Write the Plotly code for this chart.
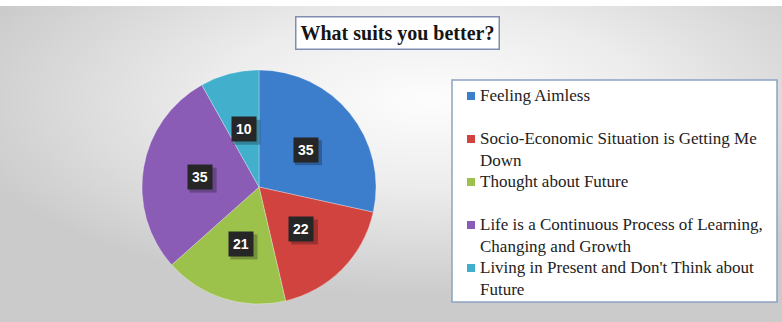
import base64
import math

import plotly.graph_objects as go

# ---- data -------------------------------------------------------------
categories = [
    "Feeling Aimless",
    "Socio-Economic Situation is Getting Me<br>Down",
    "Thought about Future",
    "Life is a Continuous Process of Learning,<br>Changing and Growth",
    "Living in Present and Don't Think about<br>Future",
]
values = [35, 22, 21, 35, 10]
colors = ["#3c7dcc", "#d1433f", "#9cc24c", "#8a5cb5", "#42b0cc"]
title_text = "What suits you better?"

# ---- canvas geometry (pixels) -----------------------------------------
W, H = 782, 322
CX, CY, R = 259, 187, 117          # pie centre and radius
LABEL_R = 0.51                      # value-box distance from centre, in radii
BOX_W, BOX_H = 27, 25               # value box size, used for its shadow


def px(x):
    return x / W


def py(y):
    return 1 - y / H


# soft radial grey backdrop below a thin white strip
svg = (
    '<svg xmlns="http://www.w3.org/2000/svg" width="782" height="316" '
    'preserveAspectRatio="none">'
    '<defs><radialGradient id="g" cx="0.55" cy="0.3" r="0.62">'
    '<stop offset="0" stop-color="#fdfdfd"/>'
    '<stop offset="0.45" stop-color="#ececec"/>'
    '<stop offset="1" stop-color="#cbcbcb"/>'
    '</radialGradient></defs>'
    '<rect width="782" height="316" fill="url(#g)"/></svg>'
)
bg_src = "data:image/svg+xml;base64," + base64.b64encode(svg.encode()).decode()

fig = go.Figure()

fig.add_trace(
    go.Pie(
        labels=[c.replace("<br>", " ") for c in categories],
        values=values,
        sort=False,
        direction="clockwise",
        rotation=0,
        textinfo="none",
        showlegend=False,
        marker=dict(colors=colors, line=dict(color="rgba(255,255,255,0.5)", width=0.6)),
        domain=dict(x=[px(CX - R), px(CX + R)], y=[py(CY + R), py(CY - R)]),
    )
)

annotations = []
shapes = []

# value boxes placed at the middle angle of each slice
total = sum(values)
cum = 0
for v in values:
    mid = (cum + v / 2) / total * 2 * math.pi
    cum += v
    lx = CX + LABEL_R * R * math.sin(mid)
    ly = CY - LABEL_R * R * math.cos(mid)
    # soft drop shadow behind the box
    shapes.append(dict(
        type="rect", xref="paper", yref="paper",
        x0=px(lx - BOX_W / 2 + 3), x1=px(lx + BOX_W / 2 + 3),
        y0=py(ly + BOX_H / 2 + 3), y1=py(ly - BOX_H / 2 + 3),
        fillcolor="rgba(0,0,0,0.25)", line=dict(width=0),
    ))
    annotations.append(dict(
        x=px(lx), y=py(ly), xref="paper", yref="paper",
        xanchor="center", yanchor="middle",
        text=f"<b>{v}</b>", showarrow=False,
        font=dict(family="Liberation Sans", size=14, color="white"),
        bgcolor="#262626", borderpad=4,
    ))

# boxed title
annotations.append(dict(
    x=px(397), y=py(33), xref="paper", yref="paper",
    xanchor="center", yanchor="middle",
    text=f"<b>{title_text}</b>", showarrow=False,
    font=dict(family="Liberation Serif", size=20, color="#151515"),
    bgcolor="white", bordercolor="#7f8db0", borderwidth=1.5, borderpad=4,
))

# legend frame
shapes.append(dict(
    type="rect", xref="paper", yref="paper",
    x0=px(452), x1=px(777), y0=py(302), y1=py(80),
    fillcolor="white", line=dict(color="#8fa2c4", width=1.5), layer="below",
))

# legend entries
FIRST_BASE, STEP = 101, 43
for i, (cat, col) in enumerate(zip(categories, colors)):
    base = FIRST_BASE + STEP * i
    shapes.append(dict(
        type="rect", xref="paper", yref="paper",
        x0=px(467), x1=px(475), y0=py(base - 1), y1=py(base - 9),
        fillcolor=col, line=dict(width=0),
    ))
    annotations.append(dict(
        x=px(479), y=py(base - 16), xref="paper", yref="paper",
        xanchor="left", yanchor="top", align="left",
        text=cat, showarrow=False,
        font=dict(family="Liberation Serif", size=17, color="#222222"),
        borderpad=0,
    ))

fig.update_layout(
    width=W, height=H,
    margin=dict(l=0, r=0, t=0, b=0),
    paper_bgcolor="white",
    plot_bgcolor="white",
    images=[dict(
        source=bg_src, xref="paper", yref="paper",
        x=0, y=py(6), sizex=1, sizey=316 / H,
        sizing="stretch", xanchor="left", yanchor="top", layer="below",
    )],
    shapes=shapes,
    annotations=annotations,
)

fig.write_html("out.html")
